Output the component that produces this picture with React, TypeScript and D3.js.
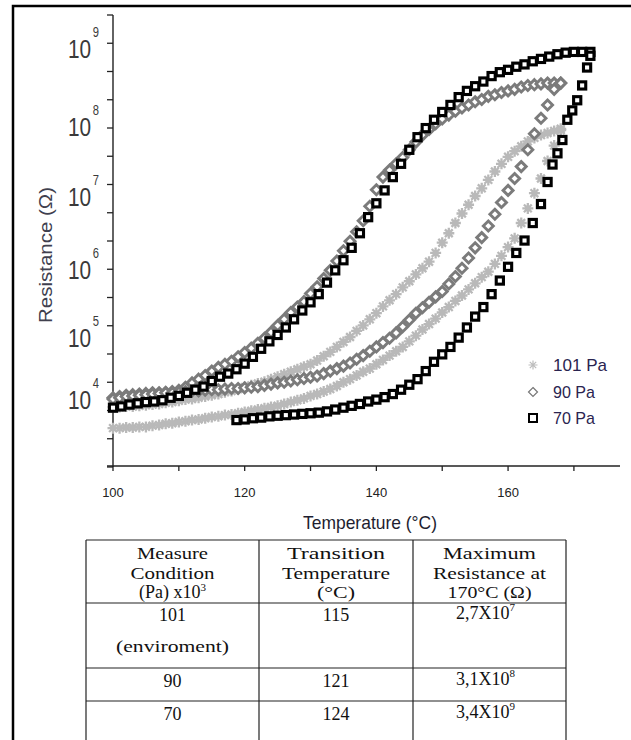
import React from "react";
import * as d3 from "d3";

// series: [temperature (°C), log10 resistance (Ω)]
const cool101 = [
  [100, 3.87], [101, 3.87], [102, 3.88], [103, 3.88], [104, 3.89], [105, 3.9], [106, 3.91], [107, 3.92], [108, 3.94], [109, 3.95],
  [110, 3.97], [111, 3.99], [112, 4.0], [113, 4.02], [114, 4.04], [115, 4.06], [116, 4.08], [117, 4.11], [118, 4.13], [119, 4.16],
  [120, 4.19], [121, 4.22], [122, 4.25], [123, 4.28], [124, 4.32], [125, 4.36], [126, 4.4], [127, 4.44], [128, 4.48], [129, 4.52],
  [130, 4.56], [131, 4.62], [132, 4.69], [133, 4.76], [134, 4.84], [135, 4.92], [136, 5.0], [137, 5.09], [138, 5.17], [139, 5.26],
  [140, 5.35], [141, 5.45], [142, 5.54], [143, 5.63], [144, 5.73], [145, 5.82], [146, 5.92], [147, 6.01], [148, 6.1], [149, 6.22],
  [150, 6.36], [151, 6.49], [152, 6.63], [153, 6.76], [154, 6.88], [155, 7.0], [156, 7.11], [157, 7.23], [158, 7.35], [159, 7.46],
  [160, 7.56], [161, 7.64], [162, 7.71], [163, 7.78], [164, 7.83], [165, 7.87], [166, 7.9], [167, 7.93], [168, 7.96],
];
const heat101 = [
  [100, 3.53], [101, 3.53], [102, 3.54], [103, 3.54], [104, 3.55], [105, 3.55], [106, 3.57], [107, 3.58], [108, 3.6], [109, 3.61],
  [110, 3.63], [111, 3.64], [112, 3.66], [113, 3.67], [114, 3.69], [115, 3.71], [116, 3.72], [117, 3.74], [118, 3.75], [119, 3.77],
  [120, 3.79], [121, 3.81], [122, 3.83], [123, 3.85], [124, 3.87], [125, 3.89], [126, 3.92], [127, 3.95], [128, 3.98], [129, 4.01],
  [130, 4.05], [131, 4.08], [132, 4.12], [133, 4.16], [134, 4.21], [135, 4.27], [136, 4.32], [137, 4.38], [138, 4.44], [139, 4.49],
  [140, 4.56], [141, 4.63], [142, 4.7], [143, 4.77], [144, 4.84], [145, 4.93], [146, 5.02], [147, 5.11], [148, 5.19], [149, 5.27],
  [150, 5.36], [151, 5.44], [152, 5.53], [153, 5.61], [154, 5.7], [155, 5.79], [156, 5.88], [157, 5.96], [158, 6.07], [159, 6.18],
  [160, 6.3], [161, 6.42], [162, 6.63], [163, 6.83], [164, 7.04], [165, 7.25], [166, 7.5], [167, 7.72], [168, 7.94],
];
const cool90 = [
  [100, 4.02], [101, 4.04], [102, 4.06], [103, 4.07], [104, 4.08], [105, 4.09], [106, 4.1], [107, 4.1], [108, 4.11], [109, 4.12],
  [110, 4.14], [111, 4.19], [112, 4.26], [113, 4.32], [114, 4.38], [115, 4.45], [116, 4.51], [117, 4.56], [118, 4.61], [119, 4.68],
  [120, 4.75], [121, 4.82], [122, 4.9], [123, 4.98], [124, 5.07], [125, 5.17], [126, 5.26], [127, 5.36], [128, 5.44], [129, 5.52],
  [130, 5.64], [131, 5.74], [132, 5.86], [133, 5.98], [134, 6.11], [135, 6.25], [136, 6.38], [137, 6.51], [138, 6.66], [139, 6.86],
  [140, 7.09], [141, 7.27], [142, 7.37], [143, 7.46], [144, 7.55], [145, 7.66], [146, 7.77], [147, 7.87], [148, 7.95], [149, 8.03],
  [150, 8.09], [151, 8.14], [152, 8.19], [153, 8.23], [154, 8.27], [155, 8.31], [156, 8.34], [157, 8.38], [158, 8.4], [159, 8.43],
  [160, 8.45], [161, 8.47], [162, 8.5], [163, 8.52], [164, 8.53], [165, 8.54], [166, 8.55], [167, 8.55], [168, 8.55],
];
const heat90 = [
  [100, 4.0], [101, 4.02], [102, 4.04], [103, 4.05], [104, 4.06], [105, 4.07], [106, 4.08], [107, 4.09], [108, 4.1], [109, 4.1],
  [110, 4.11], [111, 4.12], [112, 4.13], [113, 4.13], [114, 4.14], [115, 4.15], [116, 4.15], [117, 4.16], [118, 4.17], [119, 4.17],
  [120, 4.18], [121, 4.19], [122, 4.2], [123, 4.22], [124, 4.24], [125, 4.26], [126, 4.27], [127, 4.29], [128, 4.31], [129, 4.33],
  [130, 4.35], [131, 4.37], [132, 4.41], [133, 4.45], [134, 4.49], [135, 4.53], [136, 4.58], [137, 4.64], [138, 4.7], [139, 4.77],
  [140, 4.84], [141, 4.91], [142, 4.98], [143, 5.06], [144, 5.15], [145, 5.25], [146, 5.35], [147, 5.43], [148, 5.51], [149, 5.59],
  [150, 5.67], [151, 5.78], [152, 5.89], [153, 6.01], [154, 6.15], [155, 6.29], [156, 6.43], [157, 6.59], [158, 6.75], [159, 6.91],
  [160, 7.08], [161, 7.25], [162, 7.42], [163, 7.66], [164, 7.89], [165, 8.1], [166, 8.27], [167, 8.47], [168, 8.55],
];
const cool70 = [
  [100, 3.86], [101.25, 3.88], [102.5, 3.91], [103.75, 3.93], [105, 3.95], [106.25, 3.96], [107.5, 3.98], [108.75, 4.02],
  [110, 4.05], [111.25, 4.1], [112.5, 4.15], [113.75, 4.2], [115, 4.29], [116.25, 4.36], [117.5, 4.41], [118.75, 4.48],
  [120, 4.57], [121.25, 4.68], [122.5, 4.81], [123.75, 4.93], [125, 5.03], [126.25, 5.14], [127.5, 5.26], [128.75, 5.39],
  [130, 5.51], [131.25, 5.63], [132.5, 5.8], [133.75, 5.98], [135, 6.12], [136.25, 6.29], [137.5, 6.49], [138.75, 6.71],
  [140, 6.9], [141.25, 7.08], [142.5, 7.27], [143.75, 7.46], [145, 7.66], [146.25, 7.84], [147.5, 7.97], [148.75, 8.08],
  [150, 8.18], [151.25, 8.27], [152.5, 8.37], [153.75, 8.45], [155, 8.51], [156.25, 8.57], [157.5, 8.64], [158.75, 8.69],
  [160, 8.72], [161.25, 8.76], [162.5, 8.79], [163.75, 8.83], [165, 8.86], [166.25, 8.89], [167.5, 8.92], [168.75, 8.94],
  [170, 8.95], [171.25, 8.95], [172.5, 8.95],
];
const heat70 = [
  [118.75, 3.66], [120, 3.67], [121.25, 3.69], [122.5, 3.7], [123.75, 3.72], [125, 3.73], [126.25, 3.74], [127.5, 3.75],
  [128.75, 3.76], [130, 3.77], [131.25, 3.78], [132.5, 3.8], [133.75, 3.83], [135, 3.86], [136.25, 3.89], [137.5, 3.92],
  [138.75, 3.96], [140, 3.99], [141.25, 4.03], [142.5, 4.08], [143.75, 4.15], [145, 4.23], [146.25, 4.32], [147.5, 4.45],
  [148.75, 4.6], [150, 4.72], [151.25, 4.84], [152.5, 4.99], [153.75, 5.14], [155, 5.3], [156.25, 5.44], [157.5, 5.63],
  [158.75, 5.83], [160, 6.03], [161.25, 6.22], [162.5, 6.39], [163.75, 6.63], [165, 6.89], [166, 7.2], [166.75, 7.45],
  [167.5, 7.61], [168.25, 7.8], [169, 8.08], [169.75, 8.2], [170.5, 8.33], [171.25, 8.52], [172, 8.75], [172.5, 8.9],
];

const legendLabels = ["101 Pa", "90 Pa", "70 Pa"];
const xTicks = [100, 110, 120, 130, 140, 150, 160, 170];
const xLabels = [100, 120, 140, 160];
const yDecades = [9, 8, 7, 6, 5, 4];

const tableHead = [
  ["Measure", "Condition", "(Pa) x10"],
  ["Transition", "Temperature", "(°C)"],
  ["Maximum", "Resistance at", "170°C (Ω)"],
];
const conditions = ["101", "90", "70"];
const transitionT = ["115", "121", "124"];
const maxMantissa = ["2,7X10", "3,1X10", "3,4X10"];
const maxExp = ["7", "8", "9"];

const SANS = "'Liberation Sans', Arial, sans-serif";
const SERIF = "'Liberation Serif', 'Times New Roman', serif";

const x = d3.scaleLinear().domain([100, 177]).range([113, 620]);
// log axis: decade positions follow the printed labels
const y = d3.scaleLinear().domain([3, 4, 5, 6, 7, 8, 9]).range([461, 399, 337, 269, 196, 126, 48]);
const yTick = d3.scaleLinear().domain([0, 16]).range([467, 15]);

const star = "M-5.5,0H5.5M0,-5.5V5.5M-3.9,-3.9L3.9,3.9M-3.9,3.9L3.9,-3.9";
const starSmall = "M-4.5,0H4.5M0,-4.5V4.5M-3.2,-3.2L3.2,3.2M-3.2,3.2L3.2,-3.2";
const diamond = "M0,-5L5,0L0,5L-5,0Z";

function Asterisk({ cx, cy }) {
  return <path d={star} transform={`translate(${cx},${cy})`} stroke="#b9b9b9" strokeWidth={2.3} fill="none" />;
}
function Diamond({ cx, cy }) {
  return <path d={diamond} transform={`translate(${cx},${cy})`} stroke="#7b7b7b" strokeWidth={2.9} fill="#fff" />;
}
function Square({ cx, cy }) {
  return <rect x={cx - 3.6} y={cy - 3.6} width={7.2} height={7.2} stroke="#000" strokeWidth={3.1} fill="#fff" />;
}

function Series({ data, Marker }) {
  return (
    <g>
      {data.map((d, i) => (
        <Marker key={i} cx={x(d[0])} cy={y(d[1])} />
      ))}
    </g>
  );
}

const headWidth = [
  [71, 84, 78],
  [98, 108, 38],
  [93, 113, 84],
];

export default function App() {
  const colX = [86, 259, 413, 566];
  const colMid = [172.5, 336, 489.5];
  const rowY = [540, 603, 668, 701];
  const rowBase = [621, 687, 720];
  const headBase = [559, 579, 598];

  return (
    <svg width={631} height={740} style={{ position: "absolute", left: 0, top: 0, background: "#fff" }}>
      {/* frame */}
      <path d="M13,741V6H632" fill="none" stroke="#000" strokeWidth={2.5} />

      {/* axes */}
      <line x1={113} x2={113} y1={yTick(16)} y2={yTick(0)} stroke="#222" strokeWidth={1.4} />
      <line x1={107} x2={620} y1={466} y2={466} stroke="#222" strokeWidth={1.4} />
      {d3.range(17).map((i) => (
        <line key={i} x1={107} x2={113} y1={yTick(i)} y2={yTick(i)} stroke="#222" strokeWidth={1.3} />
      ))}
      {xTicks.map((t) => (
        <line key={t} x1={x(t)} x2={x(t)} y1={466} y2={471} stroke="#222" strokeWidth={1.3} />
      ))}
      {xLabels.map((t) => (
        <text key={t} x={x(t)} y={497} textAnchor="middle" fontFamily={SANS} fontSize={13} fill="#222">
          {t}
        </text>
      ))}
      {yDecades.map((e) => (
        <text
          key={e}
          transform={`translate(68,${y(e) + 10}) scale(0.8,1)`}
          fill="#3a3a3a"
          fontFamily={SANS}
          fontSize={26}
        >
          10
          <tspan fontSize={14} dx={2} dy={-21}>
            {e}
          </tspan>
        </text>
      ))}

      <text
        transform="translate(52,255) rotate(-90)"
        textAnchor="middle"
        fontFamily={SANS}
        fontSize={19}
        fill="#40404e"
        textLength={136}
        lengthAdjust="spacingAndGlyphs"
      >
        Resistance (Ω)
      </text>
      <text x={303} y={529} fontFamily={SANS} fontSize={19} fill="#1e1e30" textLength={134} lengthAdjust="spacingAndGlyphs">
        Temperature  (°C)
      </text>

      {/* data */}
      <Series data={cool101} Marker={Asterisk} />
      <Series data={heat101} Marker={Asterisk} />
      <Series data={cool90} Marker={Diamond} />
      <Series data={heat90} Marker={Diamond} />
      <Series data={cool70} Marker={Square} />
      <Series data={heat70} Marker={Square} />

      {/* legend */}
      <g>
        <path d={starSmall} transform="translate(533,365)" stroke="#bdbdbd" strokeWidth={1.2} fill="none" />
        <path d="M0,-4.5L4.5,0L0,4.5L-4.5,0Z" transform="translate(533,392)" stroke="#777" strokeWidth={1.2} fill="#fff" />
        <rect x={529} y={414} width={8} height={8} stroke="#000" strokeWidth={2} fill="#fff" />
        {legendLabels.map((l, i) => (
          <text
            key={l}
            x={553}
            y={371 + i * 26.5}
            fontFamily={SANS}
            fontSize={17}
            fill="#2a2450"
            textLength={i === 0 ? 54 : 42}
            lengthAdjust="spacingAndGlyphs"
          >
            {l}
          </text>
        ))}
      </g>

      {/* table */}
      <g stroke="#222" strokeWidth={1.2}>
        {colX.map((cx) => (
          <line key={cx} x1={cx} x2={cx} y1={rowY[0]} y2={741} />
        ))}
        {rowY.map((ry) => (
          <line key={ry} x1={colX[0]} x2={colX[3]} y1={ry} y2={ry} />
        ))}
      </g>
      <g fontFamily={SERIF} fontSize={17} fill="#111" textAnchor="middle">
        {tableHead.map((col, c) =>
          col.map((s, r) =>
            c === 0 && r === 2 ? (
              <text key={c + "-" + r} x={colMid[c]} y={headBase[r]} fontSize={18}>
                {s}
                <tspan fontSize={11} dy={-7}>
                  3
                </tspan>
              </text>
            ) : (
              <text
                key={c + "-" + r}
                x={colMid[c]}
                y={headBase[r]}
                textLength={headWidth[c][r]}
                lengthAdjust="spacingAndGlyphs"
              >
                {s}
              </text>
            )
          )
        )}
        {conditions.map((s, i) => (
          <text key={"c" + i} x={colMid[0]} y={rowBase[i]} fontSize={18}>
            {s}
          </text>
        ))}
        <text x={colMid[0]} y={652} textLength={113} lengthAdjust="spacingAndGlyphs">
          (enviroment)
        </text>
        {transitionT.map((s, i) => (
          <text key={"t" + i} x={colMid[1]} y={rowBase[i]} fontSize={18}>
            {s}
          </text>
        ))}
        {maxMantissa.map((s, i) => (
          <text key={"m" + i} x={colMid[2] - 4} y={rowBase[i] - 2} fontSize={18}>
            {s}
            <tspan fontSize={11} dy={-8}>
              {maxExp[i]}
            </tspan>
          </text>
        ))}
      </g>
    </svg>
  );
}
